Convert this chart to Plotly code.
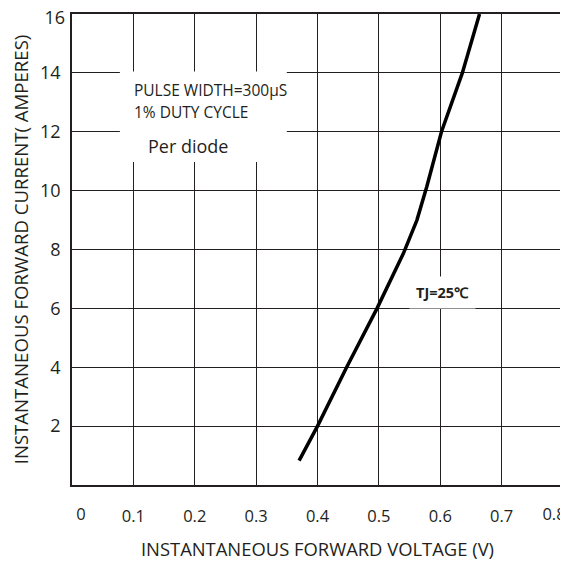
import plotly.graph_objects as go

# Forward voltage (V) vs forward current (A)
voltage = [0.370, 0.400, 0.4475, 0.497, 0.540, 0.562, 0.578, 0.602, 0.636, 0.664]
current = [0.83, 2.0, 4.0, 6.0, 7.87, 9.0, 10.13, 12.0, 14.0, 16.0]

x_ticks = [0.1, 0.2, 0.3, 0.4, 0.5, 0.6, 0.7]
x_tick_labels = ["0.1", "0.2", "0.3", "0.4", "0.5", "0.6", "0.7"]
x_first_tick, x_first_label = [0], ["0"]
x_last_tick, x_last_label = [0.8], ["0.8"]
y_ticks = [2, 4, 6, 8, 10, 12, 14]
y_tick_labels = ["2", "4", "6", "8", "10", "12", "14"]
y_top_tick, y_top_label = [16], ["16"]

INK = "#231f20"
FONT = "Open Sans"
XR = [0, 0.8]
YR = [0, 16]

fig = go.Figure()
fig.add_trace(go.Scatter(x=voltage, y=current, mode="lines",
                         line=dict(color="black", width=3.5), showlegend=False,
                         hoverinfo="skip"))
# empty traces so that the helper label axes are drawn
for xa, ya in [("x2", "y"), ("x3", "y"), ("x", "y2")]:
    fig.add_trace(go.Scatter(x=[], y=[], xaxis=xa, yaxis=ya, showlegend=False,
                             hoverinfo="skip"))

def xlab(standoff):
    return dict(ticks="", ticklabelstandoff=standoff, ticklabeloverflow="allow",
                automargin=False, tickfont=dict(size=16.5, color=INK), zeroline=False)

ylab = dict(ticks="", ticklabelstandoff=6, ticklabeloverflow="allow",
            automargin=False, tickfont=dict(size=18, color=INK), zeroline=False)

fig.update_layout(
    width=560, height=557,
    margin=dict(l=64, r=5, t=6, b=80),
    paper_bgcolor="white", plot_bgcolor="white",
    font=dict(family=FONT, color=INK),
    xaxis=dict(range=XR, tickvals=x_ticks, ticktext=x_tick_labels,
               showgrid=True, gridcolor=INK, gridwidth=1.3,
               showline=True, linecolor=INK, linewidth=1.5, mirror=True,
               title=dict(text="INSTANTANEOUS FORWARD VOLTAGE (V)",
                          font=dict(size=18.4, color=INK), standoff=18), **xlab(15)),
    xaxis2=dict(range=XR, overlaying="x", side="bottom", anchor="y",
                tickvals=x_first_tick, ticktext=x_first_label, ticklabelshift=9,
                showgrid=False, showline=False, **xlab(17)),
    xaxis3=dict(range=XR, overlaying="x", side="bottom", anchor="y",
                tickvals=x_last_tick, ticktext=x_last_label, ticklabelshift=-9,
                showgrid=False, showline=False, **xlab(17)),
    yaxis=dict(range=YR, tickvals=y_ticks, ticktext=y_tick_labels,
               showgrid=True, gridcolor=INK, gridwidth=1.3,
               showline=True, linecolor=INK, linewidth=1.5, mirror=True,
               title=dict(text="INSTANTANEOUS FORWARD CURRENT( AMPERES)",
                          font=dict(size=18.6, color=INK), standoff=10), **ylab),
    yaxis2=dict(range=YR, overlaying="y", side="left", anchor="x",
                tickvals=y_top_tick, ticktext=y_top_label, ticklabelshift=4,
                showgrid=False, showline=False, **ylab),
)

fig.add_shape(type="rect", x0=0.078, x1=0.350, y0=10.97, y1=14.05,
              fillcolor="white", line=dict(width=0), layer="above")

fig.add_annotation(x=0.0978, y=13.42, text="PULSE WIDTH=300μS", showarrow=False,
                   xanchor="left", yanchor="middle", font=dict(size=15.5, color=INK))
fig.add_annotation(x=0.0978, y=12.66, text="1% DUTY CYCLE", showarrow=False,
                   xanchor="left", yanchor="middle", font=dict(size=15.5, color=INK))
fig.add_annotation(x=0.120, y=11.52, text="Per diode", showarrow=False,
                   xanchor="left", yanchor="middle", font=dict(size=18, color=INK))
fig.add_annotation(x=0.6037, y=6.53, text="<b>TJ=25℃</b>", showarrow=False,
                   xanchor="center", yanchor="middle", bgcolor="white", borderpad=6,
                   font=dict(size=14.5, color=INK))

fig.write_html("out.html")
